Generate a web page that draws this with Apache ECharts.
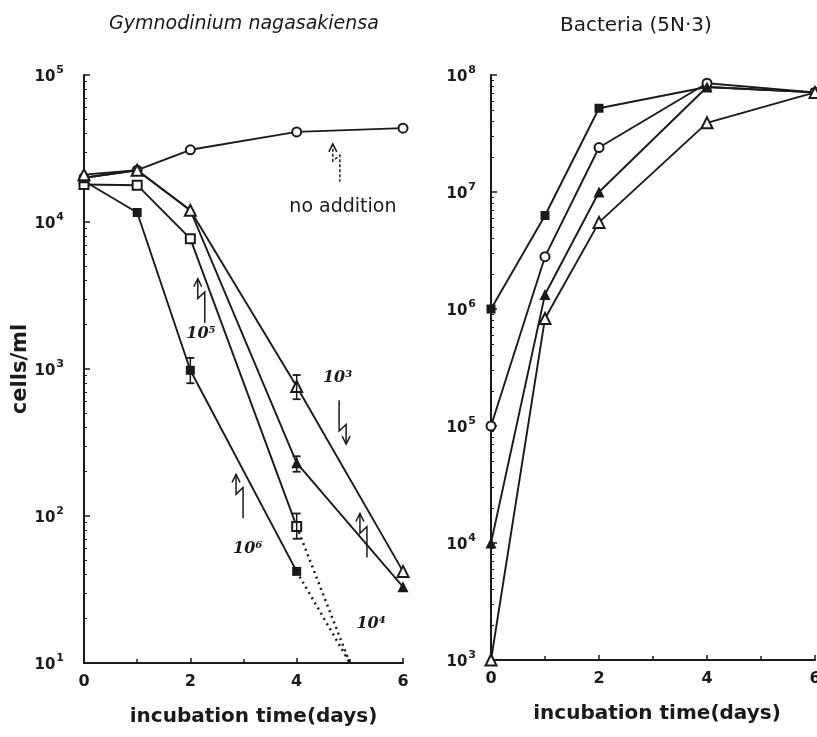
<!DOCTYPE html>
<html><head><meta charset="utf-8">
<script src="https://cdn.jsdelivr.net/npm/echarts@6/dist/echarts.min.js"></script>
<style>html,body{margin:0;padding:0;background:#fff}#c{width:817px;height:737px}</style>
</head><body><div id="c"></div>
<script>
// ---- data: left panel (Gymnodinium nagasakiensa), cells/ml vs days
const days = [0, 1, 2, 4, 6];
const gNoAddition = [2.0e4, 2.25e4, 3.1e4, 4.1e4, 4.35e4];
const g1e6 = [1.9e4, 1.16e4, 980, 42];
const g1e5 = [1.8e4, 1.78e4, 7700, 85];
const g1e4 = [2.0e4, 2.25e4, 1.2e4, 230, 33];
const g1e3 = [2.1e4, 2.25e4, 1.2e4, 760, 42];
const extrapDays = [4, 5];
const g1e6Extrap = [42, 10];
const g1e5Extrap = [85, 10];
// error bars (left panel)
const errDays = [2, 4, 4, 4];
const errLow = [800, 70, 623, 200];
const errHigh = [1190, 104, 910, 255];
// ---- data: right panel (Bacteria 5N-3)
const bFilledSquare = [1e6, 6.3e6, 5.2e7, 7.9e7, 7.1e7];
const bOpenCircle = [1e5, 2.8e6, 2.4e7, 8.5e7, 7.1e7];
const bFilledTriangle = [1e4, 1.33e6, 1.0e7, 7.9e7, 7.1e7];
const bOpenTriangle = [1e3, 8.3e5, 5.5e6, 3.9e7, 7.1e7];
// ---- text
const leftTitle = 'Gymnodinium nagasakiensa';
const rightTitle = 'Bacteria (5N·3)';
const xName = 'incubation time(days)';
const yName = 'cells/ml';
const xTicks = [0, 2, 4, 6];
// annotations (left panel)
const annText = ['no addition', '10⁵', '10³', '10⁶', '10⁴'];
const annLabelPos = [[4.87, 1.26e4], [2.2, 1730], [4.77, 870], [3.08, 60], [5.4, 18.5]];
const annTipPos = [[4.68, 3.4e4], [2.14, 4110], [4.93, 308], [2.86, 192], [5.19, 104]];
const annDir = [-1, -1, 1, -1, -1];

function pow10Label(v){ const e = Math.round(Math.log10(v)); return '{a|10}{s|' + e + '}'; }
function pair(xs, ys){ return ys.map((y,i)=>[xs[i], y]); }

const INK = '#1a1a1a';
const FONT = 'DejaVu Sans';

function xAxisCfg(gi){
  return {
    gridIndex: gi, type: 'value', min: 0, max: 6, interval: 2,
    name: xName, nameLocation: 'middle', nameGap: 44,
    nameTextStyle: {fontFamily: FONT, fontSize: 20, fontWeight: 'bold', color: INK, padding: gi===0?[0,0,0,20]:[0,0,0,8]},
    axisLine: {lineStyle: {color: INK, width: 2}},
    axisTick: {inside: true, length: 5, lineStyle: {color: INK, width: 1.5}},
    minorTick: {show: true, splitNumber: 2, length: 4, lineStyle: {color: INK, width: 1.5}},
    splitLine: {show: false},
    axisLabel: {fontFamily: FONT, fontSize: 16, fontWeight: 'bold', color: INK, margin: 11, showMaxLabel: true, showMinLabel: true,
      formatter: v => xTicks.includes(v) ? String(v) : ''}
  };
}
function yAxisCfg(gi, min, max){
  const c = {
    gridIndex: gi, type: 'log', logBase: 10, min: min, max: max,
    axisLine: {show: true, lineStyle: {color: INK, width: 2}},
    axisTick: {show: true, inside: true, length: 6, lineStyle: {color: INK, width: 1.5}},
    minorTick: {show: true, splitNumber: 9, length: 3, lineStyle: {color: INK, width: 1}},
    splitLine: {show: false},
    axisLabel: {color: INK, margin: gi===0?20:15, formatter: pow10Label,
      rich: {
        a: {fontFamily: FONT, fontSize: 15, fontWeight: 'bold', color: INK, lineHeight: 20, verticalAlign: 'bottom'},
        s: {fontFamily: FONT, fontSize: 11, fontWeight: 'bold', color: INK, lineHeight: 20, verticalAlign: 'top', padding: [0, 0, 0, 1]}
      }}
  };
  if (gi === 0) {
    c.name = yName; c.nameLocation = 'middle'; c.nameGap = 44; c.nameRotate = 90;
    c.nameTextStyle = {fontFamily: FONT, fontSize: 21, fontWeight: 'bold', color: INK};
  }
  return c;
}
function lineSeries(gi, data, symbol, opts){
  return Object.assign({
    type: 'line', xAxisIndex: gi, yAxisIndex: gi, data: data,
    symbol: symbol, symbolSize: symbol.indexOf('riangle')>=0 ? 11 : 9,
    lineStyle: {color: INK, width: 1.9},
    itemStyle: {color: INK, borderWidth: 1.6},
    z: 3, animation: false
  }, opts||{});
}

const chart = echarts.init(document.getElementById('c'), null, {renderer: 'canvas'});
const option = {
  backgroundColor: '#fff',
  animation: false,
  title: [
    {text: leftTitle, left: 104, top: 10, textStyle: {fontFamily: FONT, fontStyle: 'italic', fontWeight: 'normal', fontSize: 19, color: INK}},
    {text: rightTitle, left: 555, top: 11, textStyle: {fontFamily: FONT, fontWeight: 'normal', fontSize: 20, color: INK}}
  ],
  grid: [
    {left: 84, right: 414, top: 75, bottom: 74, outerBoundsMode: 'none', containLabel: false},
    {left: 491, right: 2, top: 75, bottom: 77, outerBoundsMode: 'none', containLabel: false}
  ],
  xAxis: [xAxisCfg(0), xAxisCfg(1)],
  yAxis: [yAxisCfg(0, 10, 1e5), yAxisCfg(1, 1e3, 1e8)],
  series: [
    lineSeries(0, pair(days, gNoAddition), 'emptyCircle'),
    lineSeries(0, pair(days, g1e6), 'rect'),
    lineSeries(0, pair(days, g1e5), 'emptyRect'),
    lineSeries(0, pair(days, g1e4), 'triangle'),
    lineSeries(0, pair(days, g1e3), 'emptyTriangle'),
    lineSeries(0, pair(extrapDays, g1e6Extrap), 'none', {lineStyle: {color: INK, width: 2.5, type: [2, 4]}, z: 2}),
    lineSeries(0, pair(extrapDays, g1e5Extrap), 'none', {lineStyle: {color: INK, width: 2.5, type: [2, 4]}, z: 2}),
    {
      type: 'custom', xAxisIndex: 0, yAxisIndex: 0, z: 4,
      data: errDays.map((d,i)=>[d, errLow[i], errHigh[i]]),
      renderItem: function(params, api){
        const lo = api.coord([api.value(0), api.value(1)]);
        const hi = api.coord([api.value(0), api.value(2)]);
        const w = 4;
        return {type: 'group', children: [
          {type: 'line', shape: {x1: lo[0], y1: lo[1], x2: hi[0], y2: hi[1]}, style: {stroke: INK, lineWidth: 1.5}},
          {type: 'line', shape: {x1: lo[0]-w, y1: lo[1], x2: lo[0]+w, y2: lo[1]}, style: {stroke: INK, lineWidth: 1.8}},
          {type: 'line', shape: {x1: hi[0]-w, y1: hi[1], x2: hi[0]+w, y2: hi[1]}, style: {stroke: INK, lineWidth: 1.8}}
        ]};
      }
    },
    lineSeries(1, pair(days, bFilledSquare), 'rect'),
    lineSeries(1, pair(days, bOpenCircle), 'emptyCircle'),
    lineSeries(1, pair(days, bFilledTriangle), 'triangle'),
    lineSeries(1, pair(days, bOpenTriangle), 'emptyTriangle')
  ]
};
chart.setOption(option);

// annotations anchored in data coordinates of the left panel
const graphics = [];
annText.forEach((t, i) => {
  const lp = chart.convertToPixel({gridIndex: 0}, annLabelPos[i]);
  const tp = chart.convertToPixel({gridIndex: 0}, annTipPos[i]);
  const isNo = i === 0;
  graphics.push({
    type: 'text', x: lp[0], y: lp[1],
    style: {text: t, fill: INK, align: 'center', verticalAlign: 'middle',
      font: isNo ? ('normal 19px "' + FONT + '"') : 'italic bold 16px "DejaVu Serif"'}
  });
  const s = annDir[i] < 0 ? 1 : -1;
  const x = tp[0], y = tp[1];
  const len = isNo ? 38 : 44;
  const pts = [[x, y], [x, y + s*len*0.45], [x + 7*s, y + s*len*0.3], [x + 7*s, y + s*len]];
  graphics.push({type: 'polyline', shape: {points: pts},
    style: {stroke: INK, lineWidth: 1.5, fill: null, lineDash: isNo ? [3, 2] : null}});
  graphics.push({type: 'polyline', shape: {points: [[x-4, y + s*8], [x, y], [x+4, y + s*8]]},
    style: {stroke: INK, lineWidth: 1.5, fill: null}});
});
chart.setOption({graphic: graphics});
</script></body></html>
